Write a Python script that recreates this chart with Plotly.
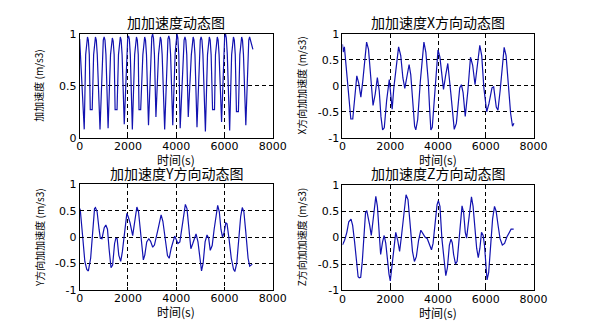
import plotly.graph_objects as go

# ---- jerk magnitude (加加速度) ----
t_jerk = [0, 40, 190,
          250, 290, 325, 360, 400, 440, 520,
          580, 620, 655, 690, 730, 844,
          940, 980, 1015, 1050, 1090, 1179,
          1280, 1320, 1355, 1390, 1430, 1470, 1550,
          1610, 1650, 1685, 1720, 1760, 1849,
          1950, 1990, 2025, 2060, 2100, 2184,
          2280, 2320, 2355, 2390, 2430, 2460, 2530,
          2620, 2660, 2695, 2730, 2770, 2854,
          2950, 2990, 3025, 3060, 3100, 3162,
          3270, 3310, 3345, 3380, 3420, 3524,
          3620, 3660, 3695, 3730, 3770, 3859,
          3960, 4000, 4035, 4070, 4110, 4167,
          4290, 4330, 4365, 4400, 4440, 4502,
          4630, 4670, 4705, 4740, 4780, 4864,
          4960, 5000, 5035, 5070, 5110, 5213,
          5300, 5340, 5375, 5410, 5450, 5510, 5590,
          5630, 5670, 5705, 5740, 5780, 5883,
          5970, 6010, 6045, 6080, 6120, 6218,
          6300, 6340, 6375, 6410, 6450, 6500, 6580,
          6640, 6680, 6715, 6750, 6790, 6888,
          6970, 7010, 7045, 7080, 7120, 7182]
v_jerk = [0.95, 0.78, 0.08,
          0.80, 0.94, 0.97, 0.94, 0.80, 0.27, 0.27,
          0.80, 0.94, 0.97, 0.94, 0.80, 0.08,
          0.80, 0.94, 0.97, 0.94, 0.80, 0.09,
          0.80, 0.94, 0.96, 0.93, 0.80, 0.27, 0.27,
          0.80, 0.94, 0.97, 0.94, 0.80, 0.13,
          0.80, 0.95, 0.98, 0.95, 0.80, 0.08,
          0.80, 0.94, 0.97, 0.94, 0.80, 0.27, 0.27,
          0.80, 0.94, 0.97, 0.94, 0.80, 0.12,
          0.82, 0.97, 1.00, 0.96, 0.80, 0.20,
          0.80, 0.94, 0.97, 0.94, 0.80, 0.08,
          0.80, 0.95, 0.98, 0.95, 0.80, 0.12,
          0.82, 0.97, 1.00, 0.96, 0.80, 0.09,
          0.80, 0.94, 0.97, 0.94, 0.80, 0.20,
          0.80, 0.94, 0.97, 0.94, 0.80, 0.10,
          0.80, 0.94, 0.97, 0.94, 0.80, 0.06,
          0.80, 0.94, 0.97, 0.94, 0.80, 0.27, 0.27,
          0.80, 0.94, 0.97, 0.94, 0.80, 0.15,
          0.82, 0.97, 1.00, 0.96, 0.80, 0.07,
          0.80, 0.94, 0.97, 0.94, 0.80, 0.25, 0.25,
          0.80, 0.94, 0.97, 0.94, 0.80, 0.12,
          0.80, 0.94, 0.97, 0.94, 0.88, 0.85]

# ---- X direction ----
t_x = [0, 30, 80, 200, 290, 350, 430, 530, 600, 680, 770, 850, 930, 1010, 1090, 1180,
       1280, 1370, 1460, 1540, 1610, 1680, 1750, 1850, 1910, 1960, 2020, 2080, 2150, 2260,
       2350, 2440, 2530, 2610, 2720, 2790, 2860, 2940, 3020, 3070, 3150, 3260, 3340, 3410,
       3490, 3590, 3650, 3700, 3760, 3850, 3930, 4000, 4080, 4230, 4320, 4410, 4540, 4680,
       4770, 4910, 4980, 5050, 5140, 5250, 5360, 5450, 5550, 5650, 5750, 5830, 5920, 6040,
       6130, 6260, 6330, 6440, 6510, 6600, 6700, 6770, 6850, 6940, 7040, 7120, 7180]
v_x = [0.80, 0.65, 0.75, 0.10, -0.45, -0.64, -0.64, -0.15, 0.19, 0.05, -0.22, 0.09, 0.52,
       0.84, 0.70, 0.21, -0.38, -0.16, 0.16, -0.10, -0.59, -0.85, -0.81, -0.28, 0.02, 0.12,
       -0.16, -0.45, -0.04, 0.46, 0.75, 0.58, 0.15, -0.05, 0.27, 0.41, 0.21, -0.35, -0.78,
       -0.85, -0.65, 0.09, 0.58, 0.84, 0.65, 0.10, -0.45, -0.85, -0.80, -0.25, 0.35, 0.69,
       0.55, -0.07, 0.20, 0.43, -0.16, -0.84, -0.72, -0.04, 0.02, -0.13, -0.59, -0.10, 0.55,
       0.40, 0.02, 0.40, 0.78, 0.58, -0.04, -0.50, -0.35, -0.04, -0.02, -0.41, -0.47, -0.10,
       0.40, 0.74, 0.58, -0.04, -0.53, -0.78, -0.72]

# ---- Y direction ----
t_y = [0, 27, 121, 215, 295, 362, 456, 536, 617, 657, 724, 804, 858, 925, 1019, 1086, 1153,
       1220, 1300, 1367, 1448, 1501, 1555, 1622, 1702, 1769, 1863, 1957, 2010, 2090, 2198,
       2290, 2372, 2440, 2510, 2580, 2640, 2700, 2780, 2868, 2940, 3029, 3100, 3250, 3377,
       3450, 3550, 3640, 3712, 3800, 3940, 4007, 4074, 4154, 4235, 4315, 4382, 4449, 4530,
       4610, 4690, 4824, 4905, 4985, 5052, 5119, 5200, 5280, 5347, 5414, 5494, 5575, 5655,
       5722, 5789, 5856, 5923, 5990, 6057, 6110, 6191, 6285, 6379, 6432, 6513, 6593, 6674,
       6741, 6808, 6888, 6982, 7049, 7102, 7156]
v_y = [0.54, 0.51, 0.03, -0.46, -0.61, -0.64, -0.40, 0.15, 0.54, 0.56, 0.48, 0.15, -0.02,
       -0.03, 0.18, 0.23, 0.15, -0.22, -0.58, -0.53, -0.12, -0.02, -0.03, -0.34, -0.46,
       -0.28, 0.15, 0.45, 0.39, 0.27, 0.03, 0.33, 0.57, 0.48, 0.15, -0.28, -0.43, -0.34,
       -0.09, -0.03, -0.08, -0.19, -0.15, 0.15, 0.42, 0.30, -0.10, -0.35, -0.40, -0.20,
       0.02, -0.06, -0.12, -0.09, 0.15, 0.45, 0.62, 0.54, 0.09, -0.22, -0.12, 0.06, -0.09,
       -0.46, -0.64, -0.49, -0.09, 0.04, -0.02, -0.25, -0.16, 0.15, 0.45, 0.60, 0.48, 0.15,
       0.00, 0.09, 0.27, 0.25, -0.03, -0.40, -0.61, -0.65, -0.49, -0.03, 0.39, 0.56, 0.48,
       0.09, -0.40, -0.55, -0.52, -0.51]

# ---- Z direction ----
t_z = [0, 89, 183, 264, 358, 426, 507, 587, 655, 700, 763, 830, 897, 965, 1018, 1072, 1140,
       1207, 1274, 1342, 1396, 1463, 1530, 1598, 1679, 1746, 1813, 1880, 1948, 2002, 2042,
       2083, 2150, 2231, 2312, 2392, 2473, 2581, 2662, 2743, 2850, 2931, 3012, 3093, 3187,
       3281, 3362, 3457, 3551, 3659, 3726, 3793, 3891, 3959, 4014, 4082, 4163, 4245, 4326,
       4394, 4476, 4544, 4598, 4653, 4734, 4802, 4884, 4952, 5006, 5074, 5142, 5197, 5278,
       5346, 5401, 5469, 5537, 5618, 5686, 5754, 5822, 5890, 5945, 5999, 6054, 6122, 6203,
       6285, 6366, 6434, 6516, 6598, 6693, 6788, 6883, 6978, 7060, 7169]
v_z = [-0.14, -0.05, 0.10, 0.30, 0.35, 0.23, -0.08, -0.45, -0.74, -0.76, -0.75, -0.45, 0.10,
       0.47, 0.51, 0.41, 0.23, 0.04, 0.29, 0.65, 0.78, 0.59, 0.04, -0.32, -0.08, 0.04, -0.11,
       -0.45, -0.69, -0.82, -0.66, -0.55, -0.20, 0.10, -0.05, -0.26, 0.04, 0.47, 0.81, 0.72,
       0.16, -0.26, -0.45, -0.36, -0.05, 0.14, 0.08, 0.01, -0.02, -0.14, -0.23, -0.11, 0.35,
       0.62, 0.70, 0.59, -0.02, -0.45, -0.72, -0.57, -0.14, -0.03, -0.10, -0.32, -0.50,
       -0.45, 0.04, 0.41, 0.60, 0.47, 0.10, -0.01, 0.35, 0.65, 0.77, 0.59, 0.16, -0.20,
       -0.38, -0.20, 0.10, 0.04, -0.14, -0.57, -0.80, -0.66, -0.14, 0.35, 0.59, 0.50, 0.23,
       -0.02, -0.14, -0.11, 0.01, 0.10, 0.16, 0.16]

titles = ["加加速度动态图", "加加速度X方向动态图", "加加速度Y方向动态图", "加加速度Z方向动态图"]
ylabels = ["加加速度 (m/s3)", "X方向加加速度 (m/s3)", "Y方向加加速度 (m/s3)", "Z方向加加速度 (m/s3)"]
xlabel = "时间(s)"
x_ticks = [0, 2000, 4000, 6000, 8000]

W, H = 597, 334
LINE = "#1212b0"
CJK = "Noto Sans CJK SC"
NUM = "DejaVu Sans"

# panel boxes in pixels: (left, right, top, bottom)
boxes = [(78, 277, 29, 137), (349, 546, 29, 137), (78, 277, 185.5, 295.5), (349, 546, 186, 296)]
series = [(t_jerk, v_jerk), (t_x, v_x), (t_y, v_y), (t_z, v_z)]
yranges = [[0, 1], [-1, 1], [-1, 1], [-1, 1]]
yticks = [[0, 0.5, 1], [-1, -0.5, 0, 0.5, 1], [-1, -0.5, 0, 0.5, 1], [-1, -0.5, 0, 0.5, 1]]

fig = go.Figure()
layout = dict(width=W, height=H, margin=dict(l=0, r=0, t=0, b=0),
              paper_bgcolor="white", plot_bgcolor="white", showlegend=False)
annotations = []

for i, ((t, v), (l, r, tp, bt)) in enumerate(zip(series, boxes)):
    n = "" if i == 0 else str(i + 1)
    fig.add_trace(go.Scatter(x=t, y=v, mode="lines", xaxis="x" + n, yaxis="y" + n,
                             line=dict(color=LINE, width=1.2)))
    axis_common = dict(showline=True, mirror=True, linecolor="black", linewidth=1,
                       ticks="inside", ticklen=3, tickcolor="black",
                       showgrid=True, gridcolor="black", gridwidth=1, griddash="4px,3px",
                       zeroline=False, tickfont=dict(family=NUM, size=11, color="black"))
    layout["xaxis" + n] = dict(axis_common, domain=[l / W, r / W], range=[0, 8000],
                               tickvals=x_ticks, ticktext=[str(k) for k in x_ticks],
                               ticklabelstandoff=-2, anchor="y" + n)
    layout["yaxis" + n] = dict(axis_common, domain=[1 - bt / H, 1 - tp / H],
                               range=yranges[i], tickvals=yticks[i],
                               ticktext=[("%g" % k) for k in yticks[i]], anchor="x" + n)
    cx = (l + r) / 2
    annotations.append(dict(text=titles[i], x=cx / W, y=1 - (tp - 12) / H, xref="paper",
                            yref="paper", showarrow=False, xanchor="center", yanchor="middle",
                            font=dict(family=CJK, size=14, color="black")))
    annotations.append(dict(text=xlabel, x=cx / W, y=1 - (bt + 22.5) / H, xref="paper",
                            yref="paper", showarrow=False, xanchor="center", yanchor="middle",
                            font=dict(family=CJK, size=12, color="black")))
    annotations.append(dict(text=ylabels[i], x=(l - 42) / W, y=1 - (tp + bt) / 2 / H,
                            xref="paper", yref="paper", showarrow=False, textangle=-90,
                            xanchor="center", yanchor="middle",
                            font=dict(family=CJK, size=10, color="black")))

layout["annotations"] = annotations
fig.update_layout(**layout)
fig.write_html("out.html")
